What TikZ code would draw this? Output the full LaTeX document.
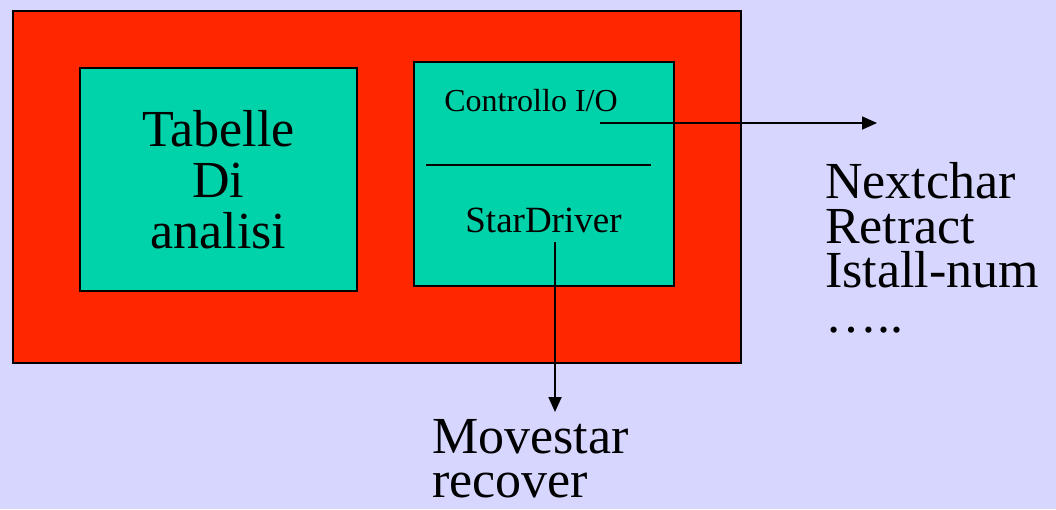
\documentclass[tikz,border=0pt]{standalone}
\usepackage{fontspec}
\setmainfont{Liberation Serif}
\usetikzlibrary{arrows.meta}
\definecolor{bgcol}{RGB}{214,214,255}
\definecolor{redfill}{RGB}{255,38,0}
\definecolor{tealfill}{RGB}{0,210,170}
\begin{document}
\begin{tikzpicture}[x=1pt,y=-1pt,
  panel/.style={draw=black, fill=tealfill, line width=1.8pt, inner sep=0pt, anchor=north west},
  label/.style={inner sep=0pt, text=black},
  conn/.style={draw=black, line width=1.8pt, -{Triangle[length=15pt,width=13pt]}}]
\fill[bgcol] (0,0) rectangle (1056,509);
\useasboundingbox (0,0) rectangle (1056,509);
\node[draw=black, fill=redfill, line width=1.5pt, inner sep=0pt, anchor=north west,
      minimum width=728pt, minimum height=352pt] (outer) at (12,10) {};
\node[panel, minimum width=277pt, minimum height=223pt, align=center,
      font=\fontsize{52}{51}\selectfont] (tab) at (79,67) {Tabelle\\Di\\analisi};
\node[panel, minimum width=260pt, minimum height=224pt] (io) at (413,61) {};
\node[label, anchor=base, font=\fontsize{32}{36}\selectfont] (ctrl) at (531,111) {Controllo I/O};
\node[label, anchor=base, font=\fontsize{37}{40}\selectfont] (star) at (543.5,232) {StarDriver};
\coordinate (divl) at (426,165);
\coordinate (divr) at (651,165);
\draw[line width=1.8pt] (divl) -- (divr);
\coordinate (ctrlout) at (600,123);
\coordinate (starout) at (555,242);
\node[label, anchor=base west, align=left, font=\fontsize{52}{44.5}\selectfont] (funcs) at (825,332)
  {Nextchar\\Retract\\Istall-num\\…..};
\node[label, anchor=base west, align=left, font=\fontsize{52}{44}\selectfont] (moves) at (432,497)
  {Movestar\\recover};
\coordinate (funcsin) at (877,123);
\coordinate (movesin) at (555,412);
\draw[conn] (ctrlout) -- (funcsin);
\draw[conn] (starout) -- (movesin);
\end{tikzpicture}
\end{document}
